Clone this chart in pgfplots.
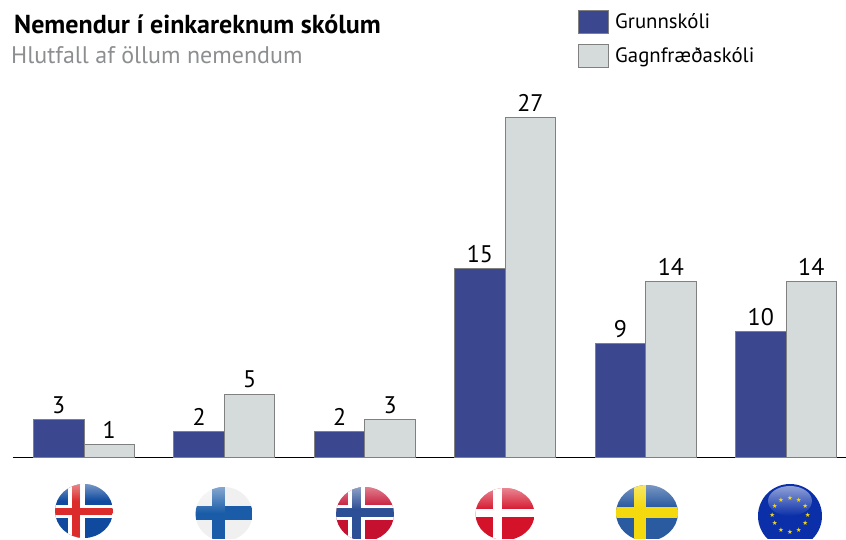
\documentclass[border=0pt]{standalone}
\usepackage{pgfplots}
\pgfplotsset{compat=1.18}
\usetikzlibrary{fadings}
\usepackage{fontspec}
\setmainfont{PT Sans}
\newfontfamily\djvu{DejaVu Sans}
\definecolor{navy}{HTML}{3B4890}
\definecolor{lgrey}{HTML}{D5DBDA}
\definecolor{edge}{HTML}{808080}
\definecolor{subg}{HTML}{8C8E90}
\definecolor{isb}{HTML}{0F4A9E}
\definecolor{isr}{HTML}{DC2B2B}
\definecolor{fib}{HTML}{1A5CA8}
\definecolor{nor}{HTML}{C5102F}
\definecolor{nob}{HTML}{2D4F96}
\definecolor{dkr}{HTML}{D4122A}
\definecolor{seb}{HTML}{2A5AA0}
\definecolor{sey}{HTML}{F5D90F}
\definecolor{eub}{HTML}{0A2FA8}
\begin{document}
\begin{tikzpicture}[x=1pt,y=1pt]
\path[use as bounding box] (0,0) rectangle (846,539);
\begin{axis}[
  at={(13pt,82pt)}, anchor=south west,
  scale only axis, width=833pt, height=367pt,
  xmin=-0.5057, xmax=5.427, ymin=0, ymax=29.2,
  axis y line=none, axis x line*=bottom,
  x axis line style={black,line width=1pt,-},
  xtick=\empty, clip=false,
  ybar=0pt, bar width=50.5pt,
  nodes near coords={\pgfmathprintnumber[assume math mode=true]{\pgfplotspointmeta}},
  every node near coord/.append style={font=\fontsize{24}{24}\selectfont,black,inner sep=2pt,yshift=3.5pt},
]
\addplot[draw=edge,fill=navy,line width=0.9pt] coordinates {(0,3) (1,2) (2,2) (3,15) (4,9) (5,10)};
\addplot[draw=edge,fill=lgrey,line width=0.9pt] coordinates {(0,1) (1,5) (2,3) (3,27) (4,14) (5,14)};
\end{axis}
% title
\node[anchor=base west,inner sep=0pt,font=\fontsize{26}{28}\selectfont\bfseries] at (14,505) {Nemendur í einkareknum skólum};
\node[anchor=base west,inner sep=0pt,font=\fontsize{24}{26}\selectfont,text=subg] at (11,475) {Hlutfall af öllum nemendum};
% legend
\draw[edge,fill=navy,line width=0.9pt] (578,506) rectangle (608,529);
\draw[edge,fill=lgrey,line width=0.9pt] (578,472) rectangle (608,495);
\node[anchor=base west,inner sep=0pt,font=\fontsize{20.8}{22}\selectfont] at (615,510) {Grunnskóli};
\node[anchor=base west,inner sep=0pt,font=\fontsize{20.8}{22}\selectfont] at (615,476) {Gagnfræðaskóli};
% Iceland
\begin{scope}
\clip (84,28) ellipse (29 and 27);
\fill[isb] (55,0) rectangle (113,56);
\fill[white] (68,0) rectangle (85,56);
\fill[white] (55,21) rectangle (113,34);
\fill[isr] (72,0) rectangle (80,56);
\fill[isr] (55,24) rectangle (113,31);
\fill[white,path fading=south,opacity=.45] (55,38) rectangle (113,56);
\end{scope}
% Finland
\begin{scope}
\clip (224,25) ellipse (28.5 and 27);
\fill[gray!12] (195,0) rectangle (253,54);
\fill[fib] (212,0) rectangle (225,54);
\fill[fib] (195,19) rectangle (253,33);
\fill[white,path fading=south,opacity=.5] (195,26) rectangle (225,54);
\end{scope}
% Norway
\begin{scope}
\clip (365,25) ellipse (29 and 27);
\fill[nor] (336,0) rectangle (394,54);
\fill[white] (348,0) rectangle (365,54);
\fill[white] (336,19) rectangle (394,34);
\fill[nob] (352,0) rectangle (361,54);
\fill[nob] (336,22) rectangle (394,31);
\fill[white,path fading=south,opacity=.5] (336,30) rectangle (394,54);
\end{scope}
% Denmark
\begin{scope}
\clip (505,25) ellipse (29.5 and 26);
\fill[dkr] (475,0) rectangle (535,54);
\fill[white,path fading=south,opacity=.55] (475,28) rectangle (535,54);
\fill[white] (493,0) rectangle (502,54);
\fill[white] (475,22) rectangle (535,30);
\end{scope}
% Sweden
\begin{scope}
\clip (647,26) ellipse (31 and 28);
\fill[seb] (615,0) rectangle (679,56);
\fill[sey] (634,0) rectangle (646,56);
\fill[sey] (615,21) rectangle (679,32);
\fill[white,path fading=south,opacity=.4] (615,32) rectangle (679,56);
\end{scope}
% EU
\begin{scope}
\clip (790,23) ellipse (32 and 32);
\fill[eub] (757,0) rectangle (823,56);
\fill[white,path fading=south,opacity=.55] (790,38) ellipse (22 and 15);
\foreach \a in {0,30,...,330}
  \node[text=sey,inner sep=0pt,font=\djvu\fontsize{6.5}{7}\selectfont] at ({790+17.7*cos(\a)},{24+17*sin(\a)}) {★};
\end{scope}
\end{tikzpicture}
\end{document}
